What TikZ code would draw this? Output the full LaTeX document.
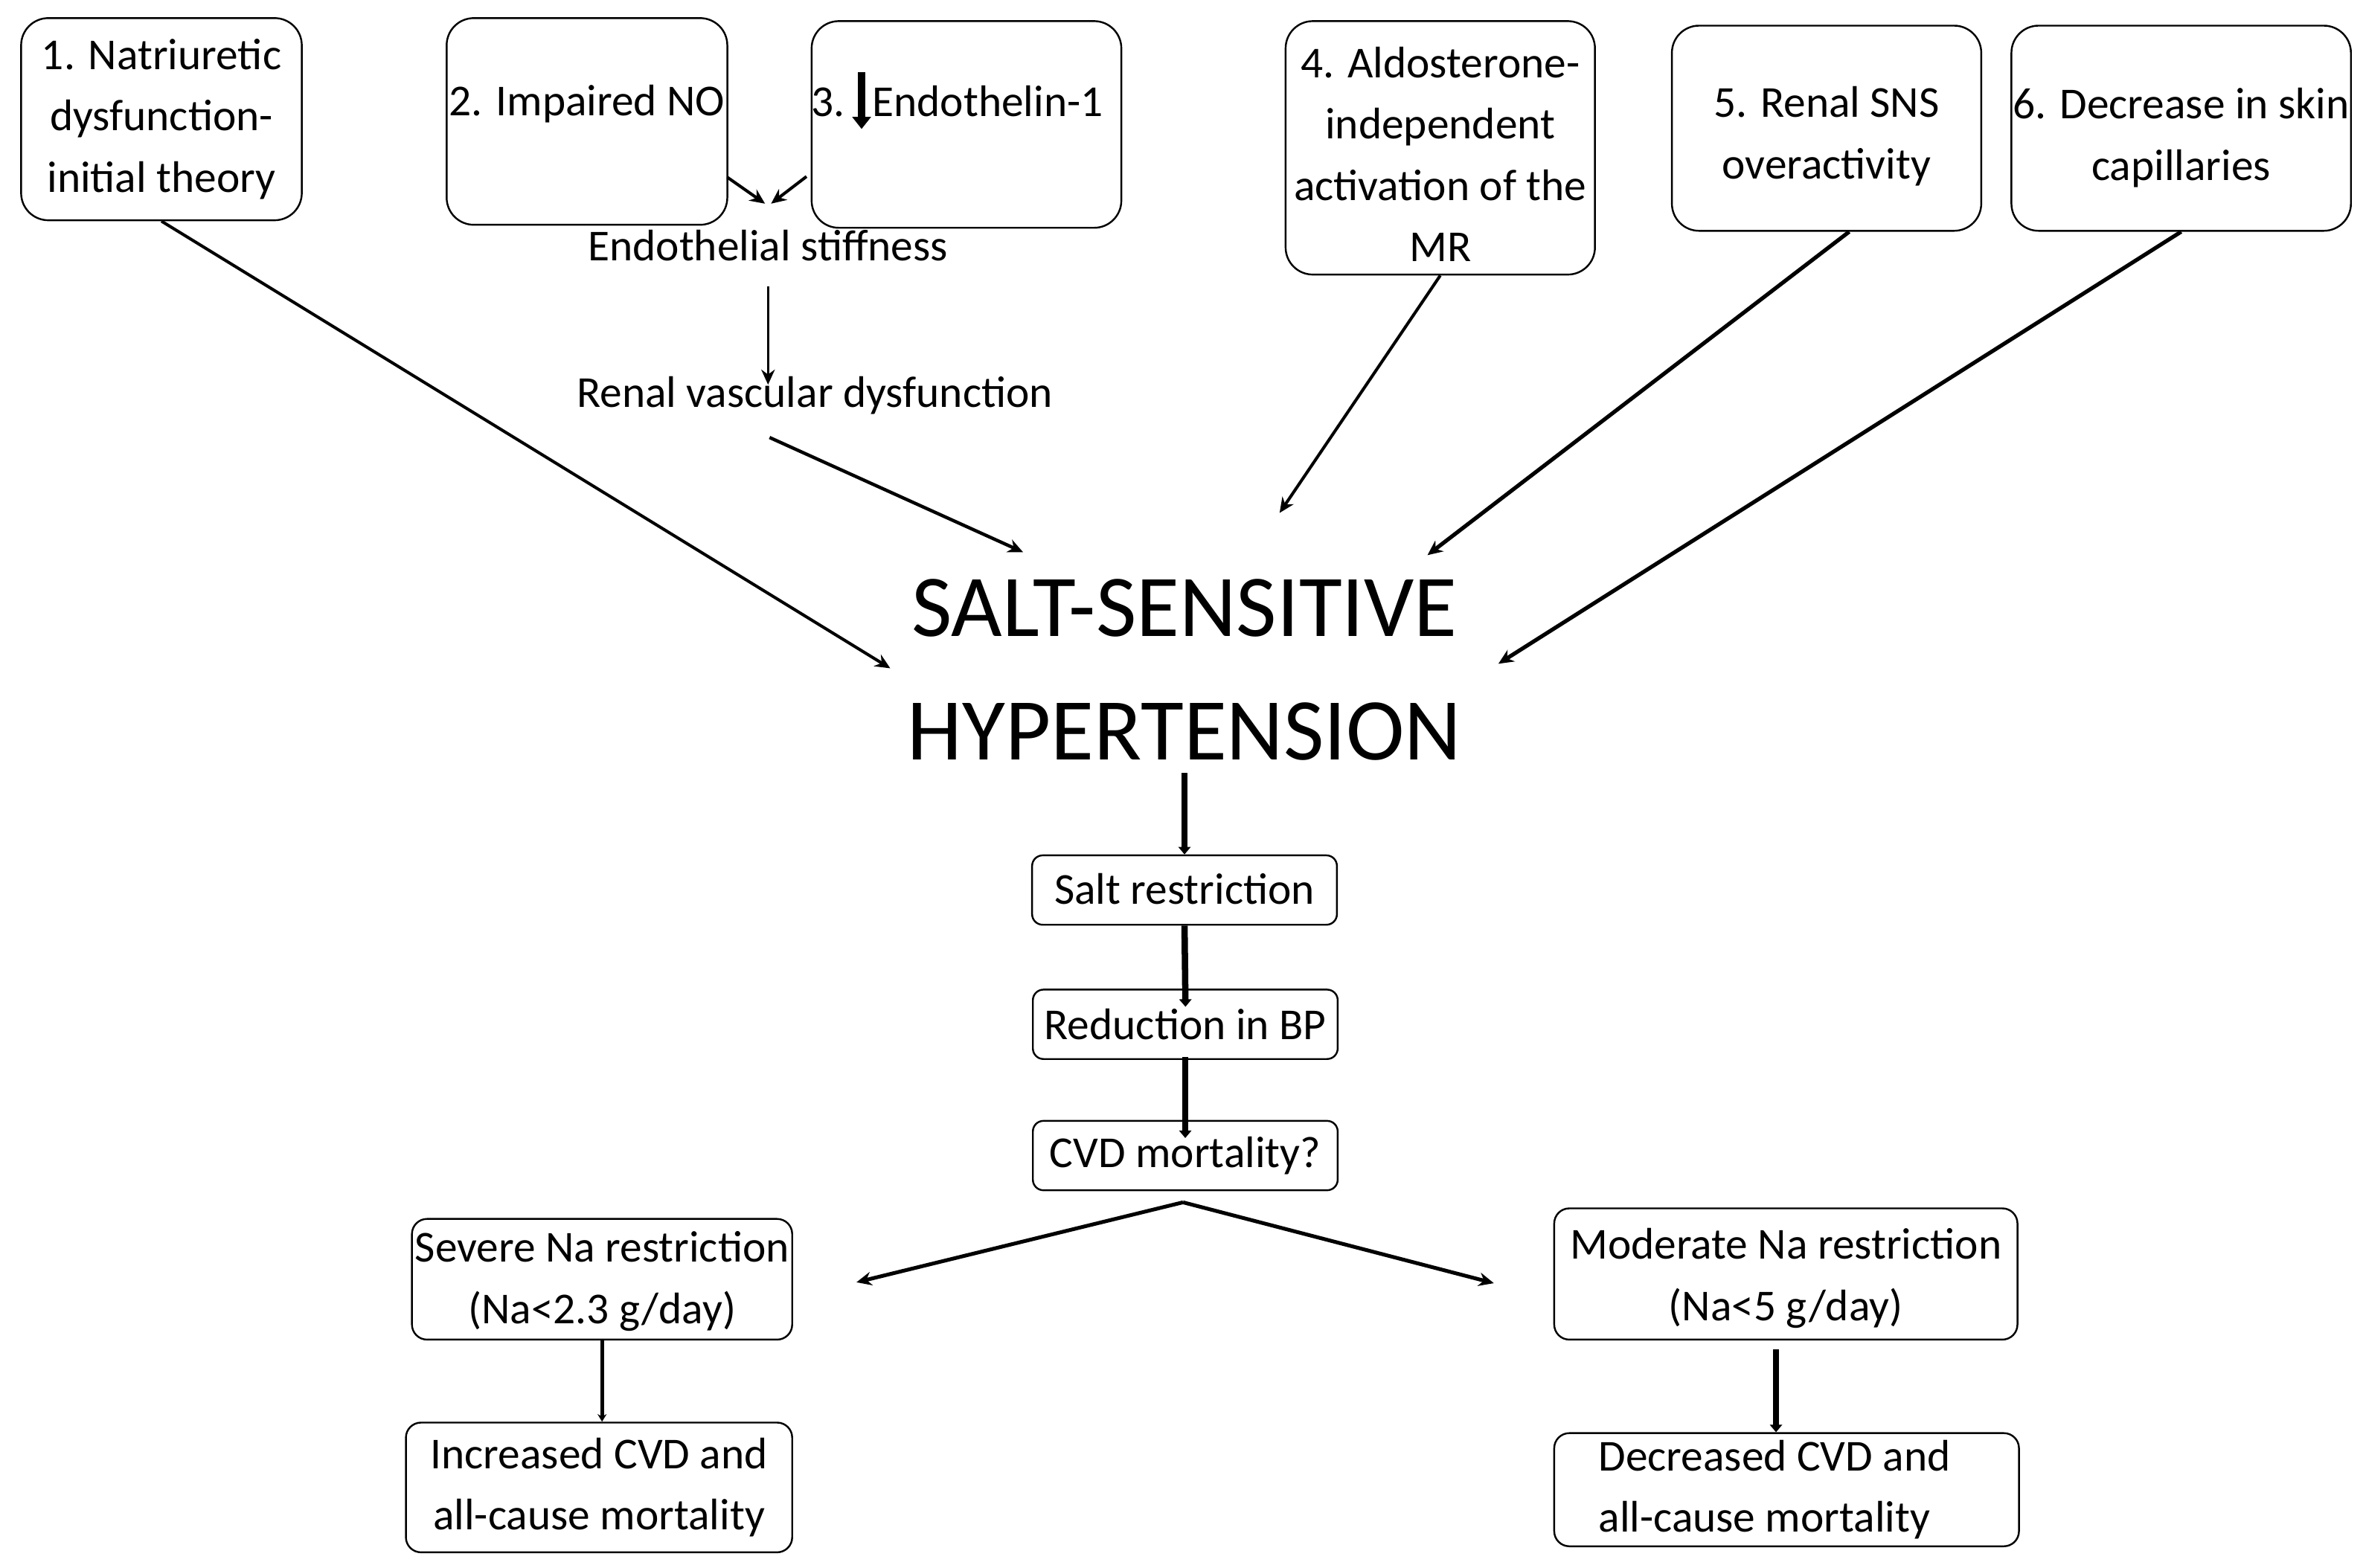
\documentclass[tikz,border=0pt]{standalone}
\usepackage{fontspec}
\setmainfont{Carlito}
\usetikzlibrary{arrows.meta,calc}
\begin{document}
\begin{tikzpicture}[x=0.5pt,y=-0.5pt,
  every node/.style={font=\fontsize{14.65pt}{20.3pt}\selectfont, inner sep=0pt},
  topbox/.style={draw, line width=0.6pt, rounded corners=9pt, align=center},
  midbox/.style={draw, line width=0.6pt, rounded corners=3.5pt, align=center, minimum width=101pt, minimum height=23pt},
  lowbox/.style={draw, line width=0.6pt, rounded corners=5pt, align=center},
  arr/.style={-{Stealth[length=5pt,width=4.5pt]}, line width=1pt},
  carr/.style={-{Triangle[length=2.5pt,width=4pt]}, line width=2.1pt},
]
\useasboundingbox (0,0) rectangle (1568,1039);
\fill[white] (0,0) rectangle (1568,1039);

% top boxes
\node[topbox, minimum width=93pt, minimum height=67pt] (b1) at (107,79) {1. Natriuretic\\dysfunction-\\initial theory};
\node[topbox, minimum width=93pt, minimum height=68.5pt] (b2) at (389,80.5) {\raisebox{2pt}[0pt][0pt]{2. Impaired NO}};
\node[topbox, minimum width=102.5pt, minimum height=68.5pt] (b3) at (640.5,82.5) {\raisebox{2.6pt}[0pt][0pt]{3.\hspace{9pt}Endothelin-1\hspace{6pt}}};
\node[topbox, minimum width=102.5pt, minimum height=84pt] (b4) at (954.5,98) {\rule{0pt}{14.5pt}4. Aldosterone-\\independent\\activation of the\\MR};
\node[topbox, minimum width=102.5pt, minimum height=68pt] (b5) at (1210.5,85) {\rule{0pt}{15.5pt}5. Renal SNS\\overactivity};
\node[topbox, minimum width=112.5pt, minimum height=68pt] (b6) at (1445.5,85) {\rule{0pt}{16.5pt}6. Decrease in skin\\capillaries};

% thick down arrow inside box 3
\draw[line width=2.5pt, -{Triangle[length=4pt,width=6pt]}] (571,48) -- (571,85.5);

% intermediate texts
\node (es) at (509,163) {Endothelial stiffness};
\node (rvd) at (540,262) {Renal vascular dysfunction};

% main title
\node[font=\fontsize{29.2pt}{41pt}\selectfont, align=center] (ssh) at (785,444) {SALT-SENSITIVE\\HYPERTENSION};

% central boxes
\node[midbox] (salt) at (785,590) {\raisebox{1pt}{Salt restriction}};
\node[midbox] (red) at (785.5,679) {Reduction in BP};
\node[midbox] (cvd) at (785.5,766) {\raisebox{-1.5pt}{CVD mortality?}};

% lower boxes
\node[lowbox, minimum width=126pt, minimum height=40pt] (sev) at (399,848) {\rule{0pt}{11.5pt}Severe Na restriction\\(Na<2.3 g/day)};
\node[lowbox, minimum width=153.5pt, minimum height=43.5pt] (mod) at (1183.5,844.5) {\rule{0pt}{13pt}Moderate Na restriction\\(Na<5 g/day)};
\node[lowbox, minimum width=128pt, minimum height=43pt] (inc) at (397,986) {Increased CVD and\\all-cause mortality};
\node[lowbox, align=left, minimum width=154pt, minimum height=37.5pt] (dec) at (1184,987.5) {Decreased CVD and\hspace*{8pt}\\all-cause mortality};

% coordinates for free ends
\coordinate (e1) at (590,443);
\coordinate (s2) at (482,117.5);
\coordinate (e2) at (507,135);
\coordinate (s3) at (534.5,117);
\coordinate (e3) at (511,135);
\coordinate (s4) at (509,190);
\coordinate (e4) at (509,255);
\coordinate (s5) at (510,290);
\coordinate (e5) at (678,366);
\coordinate (e6) at (848,340);
\coordinate (e7) at (946,368);
\coordinate (e8) at (993,440);
\coordinate (apex) at (784,797);
\coordinate (vl) at (567.6,850);
\coordinate (vr) at (990,850.6);

% connectors top
\draw[arr] (b1.south) -- (e1);
\draw[arr] (s2) -- (e2);
\draw[arr] (s3) -- (e3);
\draw[arr, line width=0.7pt] (s4) -- (e4);
\draw[arr, line width=1.1pt] (s5) -- (e5);
\draw[arr] (b4.south) -- (e6);
\draw[arr, line width=1.3pt] ($(b5.south)+(15,0)$) -- (e7);
\draw[arr, line width=1.3pt] (b6.south) -- (e8);

% central connectors
\draw[carr, shorten <=4pt] (ssh.south) -- (salt.north);
\draw[carr, shorten >=-6pt] (salt.south) -- (red.north);
\draw[carr, shorten <=-1pt, shorten >=-6pt] (red.south) -- (cvd.north);

% V split
\draw[arr, line width=1.25pt] (apex) -- (vl);
\draw[arr, line width=1.25pt] (apex) -- (vr);

% lower connectors
\draw[-{Stealth[length=2.5pt,width=3pt]}, line width=1.3pt] (sev.south) -- (sev.south |- inc.north);
\draw[-{Triangle[length=2.5pt,width=4pt]}, line width=2pt] ($(mod.south)+(-6.5,6)$) -- ($(dec.north)+(-7,0)$);
\end{tikzpicture}
\end{document}
